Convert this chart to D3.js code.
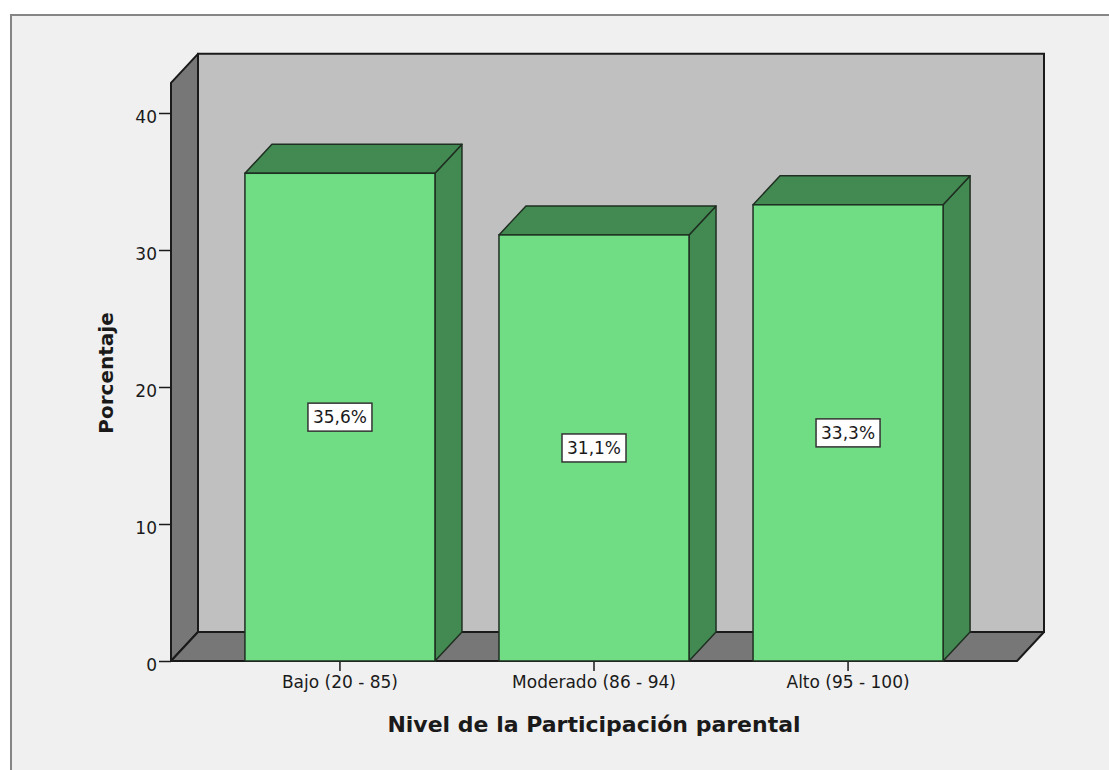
<!DOCTYPE html>
<html>
<head>
<meta charset="utf-8">
<script src="https://cdn.jsdelivr.net/npm/d3@7"></script>
<style>
  body { margin: 0; background: #ffffff; }
  svg { display: block; }
  text { font-family: "DejaVu Sans", sans-serif; fill: #1a1a1a; }
</style>
</head>
<body>
<div id="chart"></div>
<script>
const categories = ["Bajo (20 - 85)", "Moderado (86 - 94)", "Alto (95 - 100)"];
const percentages = [35.6, 31.1, 33.3];
const yTicks = [0, 10, 20, 30, 40];
const xTitle = "Nivel de la Participación parental";
const yTitle = "Porcentaje";

const W = 1109, H = 770;
const depth = { dx: 27, dy: -29 };
const wallTop = 42.2;

const svg = d3.select("#chart")
  .append("svg")
  .attr("width", W)
  .attr("height", H);

// frame
svg.append("rect")
  .attr("x", 11).attr("y", 15)
  .attr("width", W).attr("height", H)
  .attr("fill", "#f0f0f0")
  .attr("stroke", "#858585")
  .attr("stroke-width", 2);

const x = d3.scaleBand()
  .domain(categories)
  .range([171, 1017])
  .paddingInner(0.252)
  .paddingOuter(0.291);

const y = d3.scaleLinear().domain([0, 40]).range([661, 113]);

const x0 = x.range()[0], x1 = x.range()[1];
const yb = y(0), yt = y(wallTop);
const pts = p => p.map(d => d.join(",")).join(" ");

// back wall
svg.append("polygon")
  .attr("points", pts([[x0 + depth.dx, yt + depth.dy], [x1 + depth.dx, yt + depth.dy],
    [x1 + depth.dx, yb + depth.dy], [x0 + depth.dx, yb + depth.dy]]))
  .attr("fill", "#c0c0c0").attr("stroke", "#1a1a1a").attr("stroke-width", 2);

// side wall
svg.append("polygon")
  .attr("points", pts([[x0, yt], [x0 + depth.dx, yt + depth.dy],
    [x0 + depth.dx, yb + depth.dy], [x0, yb]]))
  .attr("fill", "#777777").attr("stroke", "#1a1a1a").attr("stroke-width", 2)
  .attr("stroke-linejoin", "round");

// floor
svg.append("polygon")
  .attr("points", pts([[x0, yb], [x0 + depth.dx, yb + depth.dy],
    [x1 + depth.dx, yb + depth.dy], [x1, yb]]))
  .attr("fill", "#777777").attr("stroke", "#1a1a1a").attr("stroke-width", 2)
  .attr("stroke-linejoin", "round");

// y axis
const yAxis = svg.append("g")
  .attr("transform", `translate(${x0},0)`)
  .call(d3.axisLeft(y).tickValues(yTicks).tickSize(12).tickPadding(2));
yAxis.select(".domain").attr("stroke", "#1a1a1a").attr("stroke-width", 2)
  .attr("d", `M0,${yt}V${yb}`);
yAxis.selectAll(".tick line").attr("stroke", "#1a1a1a").attr("stroke-width", 1.5);
yAxis.selectAll(".tick text")
  .attr("font-size", 17).attr("font-family", "DejaVu Sans, sans-serif")
  .attr("fill", "#1a1a1a").attr("dy", "0.55em");

// x axis
const xAxis = svg.append("g")
  .attr("transform", `translate(0,${yb})`)
  .call(d3.axisBottom(x).tickSize(10).tickPadding(5));
xAxis.select(".domain").remove();
xAxis.selectAll(".tick line").attr("stroke", "#1a1a1a").attr("stroke-width", 1.5);
xAxis.selectAll(".tick text")
  .attr("font-size", 17).attr("font-family", "DejaVu Sans, sans-serif")
  .attr("fill", "#1a1a1a");

// bars
const bars = svg.selectAll(".bar")
  .data(categories.map((c, i) => ({ cat: c, value: percentages[i] })))
  .enter().append("g").attr("class", "bar");

bars.append("polygon") // right side
  .attr("points", d => {
    const r = x(d.cat) + x.bandwidth(), top = y(d.value);
    return pts([[r, top], [r + depth.dx, top + depth.dy], [r + depth.dx, yb + depth.dy], [r, yb]]);
  })
  .attr("fill", "#438a52").attr("stroke", "#1f2f22").attr("stroke-width", 1.5)
  .attr("stroke-linejoin", "round");

bars.append("polygon") // top
  .attr("points", d => {
    const l = x(d.cat), r = l + x.bandwidth(), top = y(d.value);
    return pts([[l, top], [l + depth.dx, top + depth.dy], [r + depth.dx, top + depth.dy], [r, top]]);
  })
  .attr("fill", "#438a52").attr("stroke", "#1f2f22").attr("stroke-width", 1.5)
  .attr("stroke-linejoin", "round");

bars.append("rect") // front
  .attr("x", d => x(d.cat))
  .attr("y", d => y(d.value))
  .attr("width", x.bandwidth())
  .attr("height", d => yb - y(d.value))
  .attr("fill", "#70dd85").attr("stroke", "#1f2f22").attr("stroke-width", 1.5);

// value labels
const fmt = d3.formatLocale({ decimal: ",", thousands: ".", grouping: [3], currency: ["", "%"] }).format(".1f");
const labels = bars.append("g")
  .attr("transform", d => `translate(${x(d.cat) + x.bandwidth() / 2},${(y(d.value) + yb) / 2})`);
labels.append("rect")
  .attr("x", -32).attr("y", -14).attr("width", 64).attr("height", 28)
  .attr("fill", "#ffffff").attr("stroke", "#333333").attr("stroke-width", 1.5);
labels.append("text")
  .attr("text-anchor", "middle").attr("dy", "0.36em")
  .attr("font-size", 17)
  .text(d => fmt(d.value) + "%");

// axis titles
svg.append("text")
  .attr("x", x(categories[1]) + x.bandwidth() / 2)
  .attr("y", 732)
  .attr("text-anchor", "middle")
  .attr("font-size", 22).attr("font-weight", "bold")
  .text(xTitle);

svg.append("text")
  .attr("transform", `translate(113,373) rotate(-90)`)
  .attr("text-anchor", "middle")
  .attr("font-size", 20).attr("font-weight", "bold")
  .text(yTitle);
</script>
</body>
</html>
